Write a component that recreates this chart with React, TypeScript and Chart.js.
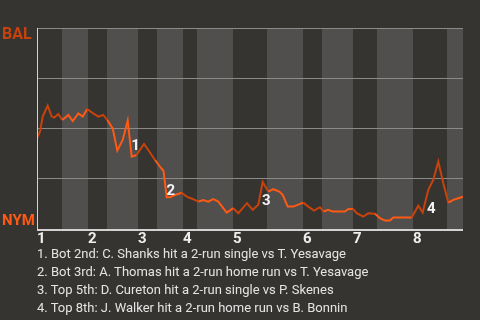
import { useEffect, useRef } from "react";
import { Chart, registerables } from "chart.js";

Chart.register(...registerables);

// Game progress (plate-appearance timeline, 0 = first pitch) and Baltimore win probability (%)
const progress = [
  0, 3, 5.7, 10.7, 14.7, 17.3, 21.3, 25.3, 31.3, 35.7, 41.3, 45.7, 50.3, 54.7, 61.3, 66.3,
  70.3, 75.7, 80.3, 85.7, 90.7, 94.7, 99.5, 107, 111.3, 118, 124, 126.5, 129.7, 133, 138,
  144.7, 149.7, 156.3, 161.3, 166.3, 171.3, 176.3, 181.3, 189.7, 196.3, 201.3, 210, 215.7,
  221.3, 225.7, 231.3, 236.3, 242.3, 245.7, 250.7, 256.3, 266.3, 271.3, 277, 283, 286.5,
  291, 296, 308, 311, 316, 319.7, 326.3, 331.3, 338, 343, 348, 353, 356.3, 374.7, 381.3,
  385.7, 391.3, 396.3, 401.3, 406.3, 411.3, 416.3, 421.3, 426,
];
const balWinPct = [
  45, 48.2, 55.7, 61.2, 55.7, 55.2, 57, 54, 56.5, 53.5, 57.3, 55.7, 59.5, 57.8, 55.7, 56.5,
  54, 49.8, 38.7, 44, 53.7, 35.7, 36.5, 42, 39, 34, 30, 28.5, 15.4, 15.4, 16.5,
  17.6, 15.7, 14.4, 13.2, 14, 13.2, 14.4, 13.2, 7.7, 9.9, 7.4, 12.4, 9.1,
  11.6, 23, 18.2, 19.4, 18.2, 16.6, 10.7, 10.7, 12.7, 10.7, 8.7, 10.4, 8.2,
  9.1, 8.2, 8.2, 9.4, 9.6, 7.4, 5.7, 7.4, 7.1, 4.9, 3.7, 3.7, 5.2, 5.2, 11.1,
  7.7, 19.1, 24.1, 33.2, 22.4, 12.7, 14.1, 14.9, 15.7,
];

// Half-inning boundaries on the progress timeline (top 1st, bottom 1st, top 2nd, ...)
const halfInningEdges = [0, 25, 51, 70, 101, 120, 146, 160, 196, 230, 266, 285, 316, 340, 376, 410, 426];
const inningLabels = ["1", "2", "3", "4", "5", "6", "7", "8"];

// Numbered key plays: label anchor (progress, win %) and description
const eventMarks = ["1", "2", "3", "4"];
const eventX = [98.5, 133.8, 229.2, 394.3];
const eventY = [39, 16.5, 11.5, 7.3];
const eventNotes = [
  "1. Bot 2nd: C. Shanks hit a 2-run single vs T. Yesavage",
  "2. Bot 3rd: A. Thomas hit a 2-run home run vs T. Yesavage",
  "3. Top 5th: D. Cureton hit a 2-run single vs P. Skenes",
  "4. Top 8th: J. Walker hit a 2-run home run vs B. Bonnin",
];

const BG = "#363430";
const BAND_LIGHT = "#504f4d";
const GRID = "#8b8a88";
const AXIS = "#d2d2d2";
const BAL_COLOR = "#c8420c";
const NYM_COLOR = "#ff5a14";
const FONT = "Roboto, 'Noto Sans', sans-serif";

function halfIndex(x: number): number {
  for (let i = 0; i < halfInningEdges.length - 1; i++) {
    if (x >= halfInningEdges[i] && x < halfInningEdges[i + 1]) return i;
  }
  return halfInningEdges.length - 2;
}

const backdrop = {
  id: "backdrop",
  beforeDraw(chart: any) {
    const { ctx, chartArea, scales } = chart;
    const xs = scales.x;
    ctx.save();
    ctx.fillStyle = BG;
    ctx.fillRect(0, 0, chart.width, chart.height);
    for (let i = 0; i < halfInningEdges.length - 1; i++) {
      if (i % 2 === 1) {
        const x0 = Math.round(xs.getPixelForValue(halfInningEdges[i]));
        const x1 = Math.round(xs.getPixelForValue(halfInningEdges[i + 1]));
        ctx.fillStyle = BAND_LIGHT;
        ctx.fillRect(x0, chartArea.top, x1 - x0, chartArea.bottom - chartArea.top + 1);
      }
    }
    ctx.restore();
  },
};

const overlay = {
  id: "overlay",
  afterDraw(chart: any) {
    const { ctx, chartArea, scales } = chart;
    const xs = scales.x;
    const ys = scales.y;
    ctx.save();
    // axes
    ctx.fillStyle = AXIS;
    ctx.fillRect(chartArea.left, chartArea.top, 1, chartArea.bottom - chartArea.top + 3);
    ctx.fillRect(chartArea.left, chartArea.bottom + 1, chartArea.right - chartArea.left, 2);

    // inning numbers at the start of each top half
    ctx.fillStyle = "#eeeeee";
    ctx.font = `bold 15px ${FONT}`;
    ctx.textAlign = "left";
    ctx.textBaseline = "alphabetic";
    inningLabels.forEach((lab, i) => {
      const x = xs.getPixelForValue(halfInningEdges[i * 2]);
      ctx.fillText(lab, x, chartArea.bottom + 15);
    });

    // team labels
    ctx.font = `bold 16px ${FONT}`;
    ctx.fillStyle = BAL_COLOR;
    ctx.fillText("BAL", 2, 39);
    ctx.font = `bold 15px ${FONT}`;
    ctx.fillStyle = NYM_COLOR;
    ctx.fillText("NYM", 2, 225);

    // key play markers
    ctx.fillStyle = "#f2f2f2";
    ctx.font = `bold 15px ${FONT}`;
    ctx.textAlign = "center";
    eventMarks.forEach((m, i) => {
      ctx.fillText(m, xs.getPixelForValue(eventX[i]), ys.getPixelForValue(eventY[i]));
    });
    ctx.restore();
  },
};

export default function App() {
  const canvasRef = useRef<HTMLCanvasElement | null>(null);

  useEffect(() => {
    const canvas = canvasRef.current;
    if (!canvas) return;
    const points = progress.map((x, i) => ({ x, y: balWinPct[i] }));
    const chart = new Chart(canvas, {
      type: "line",
      data: {
        datasets: [
          {
            data: points,
            borderWidth: 2,
            pointRadius: 0,
            tension: 0,
            borderColor: NYM_COLOR,
            segment: {
              borderColor: (c: any) =>
                halfIndex((c.p0.parsed.x + c.p1.parsed.x) / 2) % 2 === 0 ? BAL_COLOR : NYM_COLOR,
            },
          },
        ],
      },
      options: {
        responsive: false,
        animation: false,
        devicePixelRatio: 1,
        layout: { padding: { left: 37, right: 17, top: 28, bottom: 92 } },
        plugins: { legend: { display: false }, tooltip: { enabled: false } },
        scales: {
          x: { type: "linear", min: 0, max: 426, display: false },
          y: {
            min: 0,
            max: 100,
            ticks: { display: false, stepSize: 25 },
            grid: {
              drawTicks: false,
              color: (c: any) => (c.tick && c.tick.value === 0 ? "rgba(0,0,0,0)" : GRID),
            },
            border: { display: false },
          },
        },
      },
      plugins: [backdrop, overlay],
    });
    return () => chart.destroy();
  }, []);

  return (
    <div
      style={{
        position: "fixed",
        left: 0,
        top: 0,
        width: 480,
        height: 320,
        background: BG,
        overflow: "hidden",
      }}
    >
      <canvas ref={canvasRef} width={480} height={320} style={{ display: "block" }} />
      <div
        style={{
          position: "absolute",
          left: 37,
          top: 245,
          font: `13px ${FONT}`,
          lineHeight: "18px",
          color: "#e4e4e4",
          whiteSpace: "nowrap",
        }}
      >
        {eventNotes.map((t) => (
          <div key={t}>{t}</div>
        ))}
      </div>
    </div>
  );
}
